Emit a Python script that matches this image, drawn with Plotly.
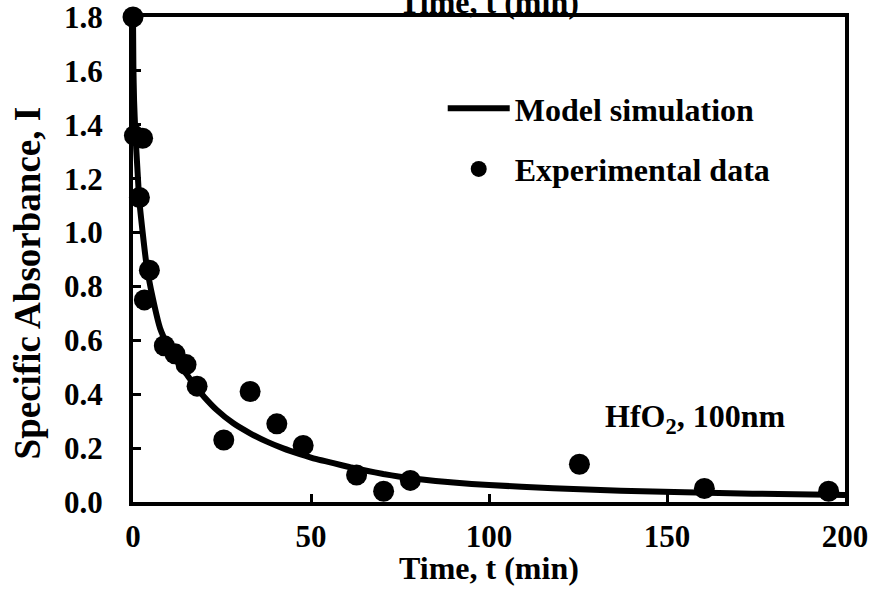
import plotly.graph_objects as go

# Experimental data (time in min, specific absorbance)
exp_t = [0, 0.4, 1.8, 2.7, 3.2, 4.6, 8.8, 11.8, 14.9, 18.0, 25.5, 32.9, 40.4, 47.8, 62.8, 70.4, 77.9, 125.4, 160.5, 195.4]
exp_I = [1.80, 1.36, 1.13, 1.35, 0.75, 0.86, 0.58, 0.55, 0.51, 0.43, 0.23, 0.41, 0.29, 0.21, 0.10, 0.04, 0.08, 0.14, 0.05, 0.04]

# Model simulation curve
model_t = [0, 0.1, 0.3, 0.66, 1.2, 1.77, 2.72, 3.8, 5.5, 7.6, 10, 12.5, 15, 17.5, 20, 23.5, 28.2, 32.9, 37.6, 42.2,
           46.9, 51.6, 56.3, 61, 65.6, 70.3, 75, 80, 85, 90, 100, 118, 137, 155, 174, 200]
model_I = [1.80, 1.62, 1.49, 1.37, 1.245, 1.12, 1.00, 0.88, 0.76, 0.645, 0.575, 0.52, 0.475, 0.43, 0.39, 0.342, 0.292,
           0.255, 0.224, 0.199, 0.178, 0.159, 0.144, 0.129, 0.116, 0.104, 0.094, 0.085, 0.078, 0.072, 0.063, 0.051,
           0.042, 0.036, 0.031, 0.026]

x_ticks = [0, 50, 100, 150, 200]
y_ticks = [0.0, 0.2, 0.4, 0.6, 0.8, 1.0, 1.2, 1.4, 1.6, 1.8]

FONT = "Liberation Serif, Times New Roman, serif"

fig = go.Figure()
fig.add_trace(go.Scatter(
    x=model_t, y=model_I, mode="lines", name="Model simulation",
    line=dict(color="black", width=6, shape="spline", smoothing=0.5),
    legendgroup="a", cliponaxis=False,
))
fig.add_trace(go.Scatter(
    x=exp_t, y=exp_I, mode="markers", name="Experimental data",
    marker=dict(color="black", size=21),
    legendgroup="b", cliponaxis=False,
))

axis_common = dict(
    showline=True, linecolor="black", linewidth=4, mirror=True,
    ticks="inside", ticklen=8, tickwidth=3, tickcolor="black",
    showgrid=False, zeroline=False, automargin=False,
    ticklabeloverflow="allow",
    tickfont=dict(family=FONT, size=31, color="black", weight="bold"),
)

fig.update_layout(
    width=887, height=591,
    margin=dict(l=133, r=42, t=17, b=89),
    paper_bgcolor="white", plot_bgcolor="white",
    font=dict(family=FONT, color="black"),
    xaxis=dict(
        range=[0, 200], tickvals=x_ticks, ticktext=[str(v) for v in x_ticks],
        ticklabelstandoff=4,
        **axis_common,
    ),
    yaxis=dict(
        range=[0, 1.8], tickvals=y_ticks, ticktext=[f"{v:.1f}" for v in y_ticks],
        ticklabelstandoff=20,
        **axis_common,
    ),
    showlegend=True,
    legend=dict(
        x=0.435, y=0.868, xanchor="left", yanchor="top",
        bgcolor="rgba(0,0,0,0)",
        font=dict(family=FONT, size=32, color="black", weight="bold"),
        traceorder="grouped", tracegroupgap=16, itemwidth=62,
    ),
    annotations=[
        dict(
            x=132, y=0.31, xref="x", yref="y", xanchor="left", yanchor="middle",
            text="HfO<sub>2</sub>, 100nm", showarrow=False,
            font=dict(family=FONT, size=32, color="black", weight="bold"),
        ),
        # bottom x-axis title
        dict(
            x=0.5, y=-0.137, xref="paper", yref="paper", xanchor="center", yanchor="middle",
            text="Time, t (min)", showarrow=False,
            font=dict(family=FONT, size=32, color="black", weight="bold"),
        ),
        # top (secondary) axis title, partly cut off by the page edge
        dict(
            x=0.5, y=1, xref="paper", yref="paper", xanchor="center", yanchor="bottom",
            yshift=-5,
            text="Time, t (min)", showarrow=False,
            font=dict(family=FONT, size=32, color="black", weight="bold"),
        ),
        # y-axis title
        dict(
            x=-0.148, y=0.452, xref="paper", yref="paper", xanchor="center", yanchor="middle",
            text="Specific Absorbance, I", textangle=-90, showarrow=False,
            font=dict(family=FONT, size=37, color="black", weight="bold"),
        ),
    ],
)

fig.write_html("out.html")
